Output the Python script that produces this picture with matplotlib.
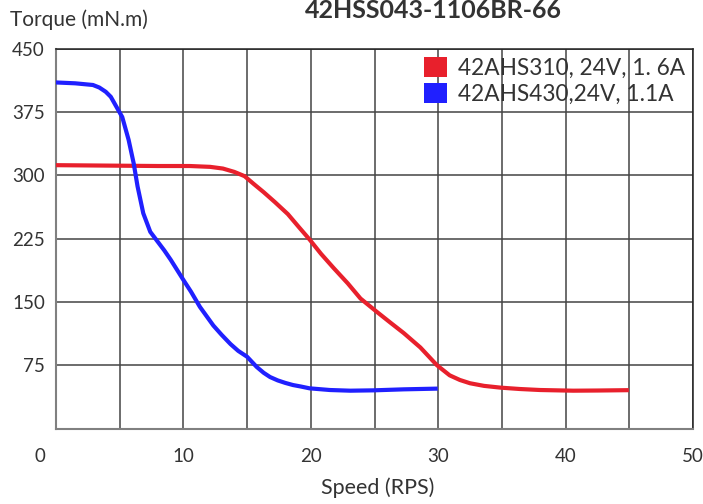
import matplotlib.pyplot as plt
import matplotlib.transforms as mtransforms
from matplotlib.patches import Patch
import numpy as np

# Curvas de torque (velocidade em RPS, torque em mN.m)
vel_310 = [0, 4, 8, 10.5, 12.1, 13.1, 14.0, 14.8, 15.5, 16.3, 17.2, 18.2, 19.1, 19.9, 20.8, 21.8, 22.9, 23.9,
           25.2, 26.2, 27.3, 28.6, 29.9, 30.9, 31.7, 32.5, 33.6, 34.9, 36.4, 38.0, 40.6, 42.5, 44.8]
torque_310 = [312, 311.5, 311, 311, 310, 308, 304, 299, 290, 280, 268, 254, 238, 224, 207, 190, 172, 154,
              138, 126, 113, 96, 75, 63, 57.5, 53.6, 50.5, 48.4, 46.8, 45.6, 44.8, 45.0, 45.4]

vel_430 = [0, 1.5, 2.9, 3.4, 3.9, 4.3, 4.6, 5.2, 5.7, 6.1, 6.4, 6.85, 7.4, 8.0, 8.5, 9.0, 10.0, 10.6, 11.3,
           12.35, 13.0, 13.7, 14.3, 15.0, 15.75, 16.3, 16.8, 17.4, 18.0, 18.6, 19.2, 19.9, 21.5, 23.1, 24.9, 27.3, 29.8]
torque_430 = [410, 409, 407, 404, 399, 393, 385, 369, 342, 314, 287, 255, 233, 221, 211, 200, 176, 162, 144,
              122, 111, 100, 92, 85, 73, 66, 61, 57, 54, 51.5, 49.8, 47.6, 45.6, 44.8, 45.2, 46.4, 47.2]

legenda = ["42AHS310, 24V, 1. 6A", "42AHS430,24V, 1.1A"]
cores = ["#E8202C", "#2020FF"]
ticks_x = [0, 10, 20, 30, 40, 50]
ticks_y = [75, 150, 225, 300, 375, 450]

plt.rcParams["font.family"] = ["Lato", "DejaVu Sans"]
TXT = "#333333"

fig = plt.figure(figsize=(7.03, 5.04), dpi=100)
ax = fig.add_axes([56 / 703, 1 - 428.5 / 504, 637 / 703, 379.8 / 504])

ax.plot(vel_310, torque_310, color=cores[0], linewidth=3, solid_joinstyle="round", zorder=3)
ax.plot(vel_430, torque_430, color=cores[1], linewidth=3, solid_joinstyle="round", zorder=3)

ax.set_xlim(0, 50)
ax.set_ylim(0, 450)
ax.set_xticks(ticks_x)
ax.set_xticks(np.arange(0, 51, 5), minor=True)
ax.set_yticks(ticks_y)
ax.grid(True, which="both", axis="x", color="#444444", linewidth=1.1)
ax.grid(True, which="major", axis="y", color="#444444", linewidth=1.1)
ax.tick_params(which="both", length=0)
ax.tick_params(axis="x", pad=14, labelsize=13.5, labelcolor=TXT)
ax.tick_params(axis="y", pad=8, labelsize=13.5, labelcolor=TXT)
for s in ["left", "bottom"]:
    ax.spines[s].set_color("#808080")
    ax.spines[s].set_linewidth(1.5)
for s in ["top", "right"]:
    ax.spines[s].set_color("#222222")
    ax.spines[s].set_linewidth(1.1)

# o "0" do eixo x fica deslocado para a esquerda
lbl0 = ax.get_xticklabels()[0]
lbl0.set_transform(lbl0.get_transform() + mtransforms.ScaledTranslation(-16 / 100, 0, fig.dpi_scale_trans))

handles = [Patch(facecolor=c, edgecolor="none") for c in cores]
leg = ax.legend(handles, legenda, loc="upper right", bbox_to_anchor=(1.0, 1.0),
                frameon=False, fontsize=16.3, handlelength=1.0, handleheight=1.0,
                handletextpad=0.5, labelspacing=0.2, borderpad=0.0, borderaxespad=0.35)
for t in leg.get_texts():
    t.set_color(TXT)

fig.text(433 / 703, 1 - 18 / 504, "42HSS043-1106BR-66", ha="center", va="baseline",
         fontsize=18, fontweight="bold", color=TXT)
fig.text(10 / 703, 1 - 20 / 504, "Torque (mN.m)", ha="left", va="center", fontsize=15, color=TXT)
fig.text(378 / 703, 1 - 488 / 504, "Speed (RPS)", ha="center", va="center", fontsize=15.5, color=TXT)

fig.savefig("out.png", dpi=100)
